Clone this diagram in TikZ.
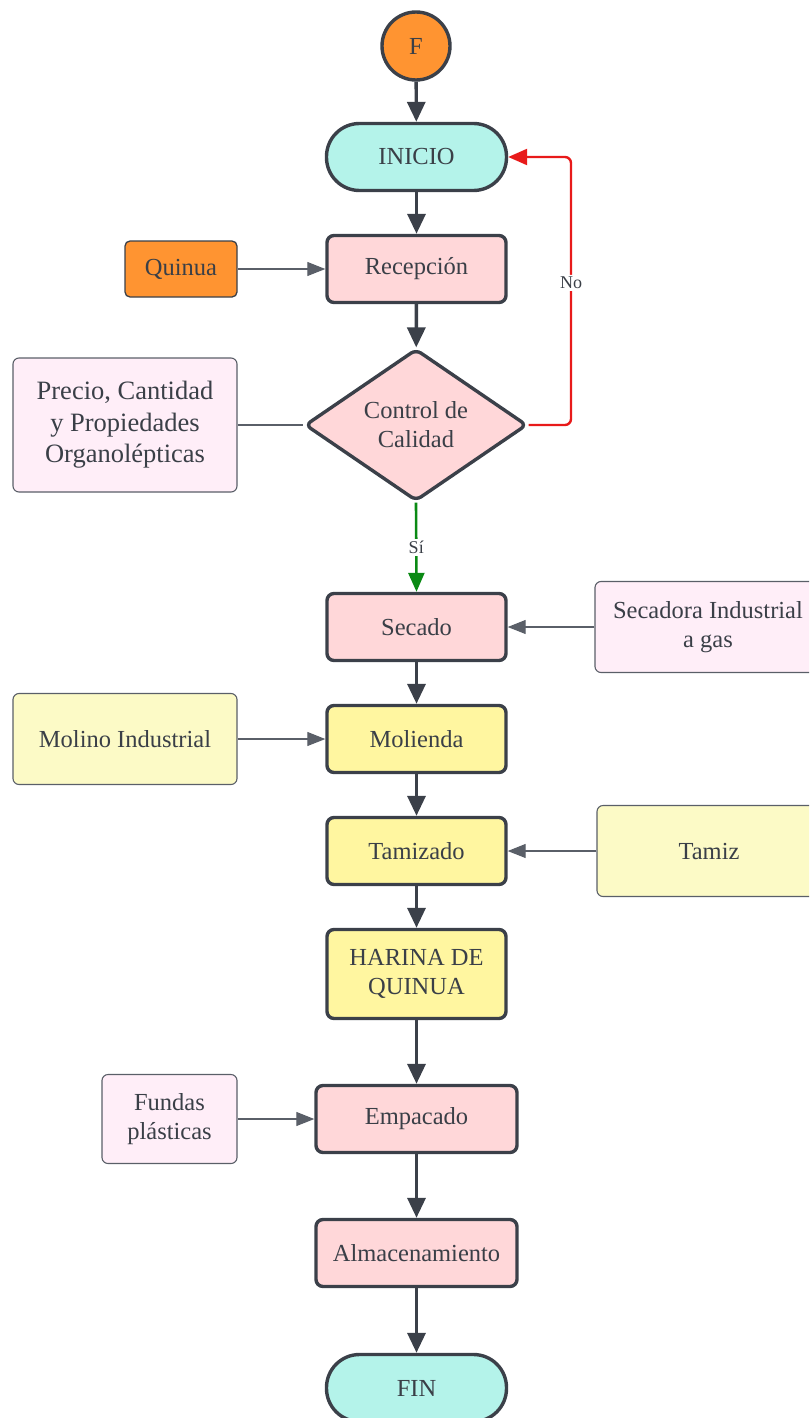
\documentclass[tikz,border=0pt]{standalone}
\usepackage{fontspec}
\setmainfont{Liberation Serif}
\usetikzlibrary{arrows.meta,shapes.geometric}

\definecolor{ink}{HTML}{3B4049}
\definecolor{textc}{HTML}{3A3F47}
\definecolor{thin}{HTML}{5A5F68}
\definecolor{cyanfill}{HTML}{B4F3EA}
\definecolor{pinkfill}{HTML}{FFD7D9}
\definecolor{orangefill}{HTML}{FF9431}
\definecolor{lilac}{HTML}{FFEEF8}
\definecolor{yellowfill}{HTML}{FFF6A0}
\definecolor{paleyellow}{HTML}{FCFAC6}
\definecolor{noRed}{HTML}{E81A1A}
\definecolor{siGreen}{HTML}{0A8A14}

\tikzset{
  x=1pt, y=-1pt,
  base/.style={text=textc, align=center, inner sep=0pt,
    font=\fontsize{24.5}{29}\selectfont},
  terminal/.style={base, draw=ink, line width=3.4pt, fill=cyanfill,
    rounded corners=33pt, minimum width=180pt, minimum height=67pt},
  process/.style={base, draw=ink, line width=3.4pt, fill=pinkfill,
    rounded corners=7pt, minimum width=179pt, minimum height=67pt},
  yprocess/.style={process, fill=yellowfill},
  decision/.style={base, draw=ink, line width=3.4pt, fill=pinkfill,
    shape=diamond, aspect=1.46, rounded corners=6pt,
    minimum width=222pt, minimum height=152pt},
  resource/.style={base, draw=thin, line width=1.1pt, fill=lilac,
    rounded corners=6pt},
  yresource/.style={resource, fill=paleyellow},
  flow/.style={draw=ink, line width=3.4pt,
    -{Triangle[length=20pt,width=18pt]}},
  feed/.style={draw=thin, line width=1.1pt,
    -{Triangle[length=18pt,width=14pt]}},
  tag/.style={fill=white, text=textc, inner sep=2pt,
    font=\fontsize{18}{20}\selectfont},
}

\begin{document}
\begin{tikzpicture}
\useasboundingbox (0,0) rectangle (809,1418);
\clip (0,0) rectangle (809,1418);

% main column
\node[base, draw=ink, line width=3.4pt, fill=orangefill, circle,
      minimum size=68pt] (f) at (416,46) {F};
\node[terminal] (inicio) at (416.5,157) {INICIO};
\node[process] (recep) at (416.5,269) {Recepción};
\node[decision] (cc) at (416,425) {Control de\\Calidad};
\node[process] (secado) at (416.5,627) {Secado};
\node[yprocess] (molienda) at (416.5,739) {Molienda};
\node[yprocess] (tamizado) at (416.5,851) {Tamizado};
\node[yprocess, minimum height=89pt] (harina) at (416.5,974) {HARINA DE\\QUINUA};
\node[process, minimum width=201pt] (empacado) at (416.5,1119) {Empacado};
\node[process, minimum width=201pt] (almac) at (416.5,1253) {Almacenamiento};
\node[terminal] (fin) at (416.5,1388) {FIN};

% inputs and resources
\node[base, draw=ink, line width=1.3pt, fill=orangefill, rounded corners=5pt,
      minimum width=112pt, minimum height=56pt] (quinua) at (181,269) {Quinua};
\node[resource, minimum width=224pt, minimum height=134pt,
      font=\fontsize{26.5}{31.5}\selectfont] (precio) at (125,425)
      {Precio, Cantidad\\y Propiedades\\Organolépticas};
\node[resource, minimum width=226pt, minimum height=91pt] (secadora) at (708,627)
      {Secadora Industrial\\a gas};
\node[yresource, minimum width=224pt, minimum height=91pt] (molino) at (125,739)
      {Molino Industrial};
\node[yresource, minimum width=224pt, minimum height=91pt] (tamiz) at (709,851)
      {Tamiz};
\node[resource, minimum width=135pt, minimum height=89pt] (fundas) at (169.5,1119)
      {Fundas\\plásticas};

% main flow
\draw[flow] (f) -- (inicio);
\draw[flow] (inicio) -- (recep);
\draw[flow] (recep) -- (cc);
\draw[flow] (secado) -- (molienda);
\draw[flow] (molienda) -- (tamizado);
\draw[flow] (tamizado) -- (harina);
\draw[flow] (harina) -- (empacado);
\draw[flow] (empacado) -- (almac);
\draw[flow] (almac) -- (fin);

% decision branches
\draw[draw=siGreen, line width=2.6pt, -{Triangle[length=19pt,width=16pt]}]
  (cc.south) -- node[tag] {Sí} (secado.north);
\draw[draw=noRed, line width=2.4pt, rounded corners=6pt,
      -{Triangle[length=19pt,width=16pt]}]
  (cc.east) -- (571,425) -- node[tag, pos=0.53] {No} (571,157) -- (inicio.east);

% resource feeds
\draw[feed] (quinua) -- (recep);
\draw[draw=thin, line width=1.1pt] (precio) -- (cc);
\draw[feed] (secadora) -- (secado);
\draw[feed] (molino) -- (molienda);
\draw[feed] (tamiz) -- (tamizado);
\draw[feed] (fundas) -- (empacado);
\end{tikzpicture}
\end{document}
